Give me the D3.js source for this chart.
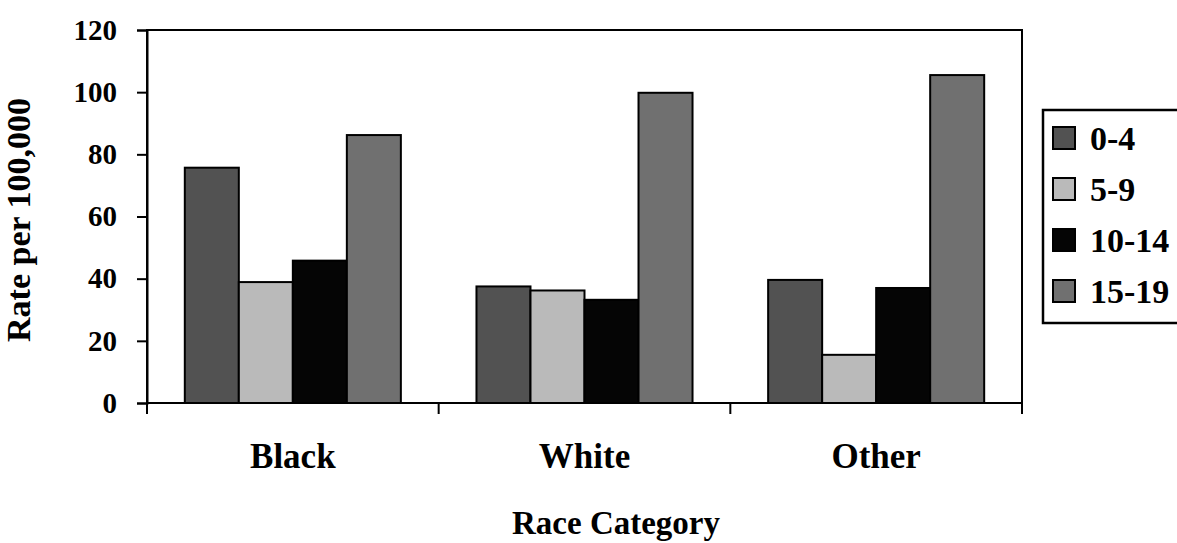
<!DOCTYPE html>
<html>
<head>
<meta charset="utf-8">
<script src="https://cdn.jsdelivr.net/npm/d3@7/dist/d3.min.js"></script>
<style>
  html, body { margin: 0; padding: 0; background: #fff; }
  text { font-family: "Liberation Serif", "Times New Roman", serif; font-weight: bold; fill: #000; }
</style>
</head>
<body>
<svg id="chart" width="1177" height="543"></svg>
<script>
const categories = ["Black", "White", "Other"];
const seriesNames = ["0-4", "5-9", "10-14", "15-19"];
const values_0_4 = [75.7, 37.5, 39.6];
const values_5_9 = [38.9, 36.2, 15.5];
const values_10_14 = [45.8, 33.2, 37.0];
const values_15_19 = [86.2, 99.8, 105.5];
const yTicks = [0, 20, 40, 60, 80, 100, 120];
const seriesColors = ["#525252", "#bababa", "#050505", "#707070"];

const seriesValues = [values_0_4, values_5_9, values_10_14, values_15_19];

(function () {
const svg = d3.select("#chart");
const mLeft = 147, mRight = 1022, mTop = 30, mBottom = 403;

const x0 = d3.scaleBand().domain(categories).range([mLeft, mRight]).paddingInner(0).paddingOuter(0);
const x1 = d3.scaleBand().domain(seriesNames).range([0, x0.bandwidth()]).paddingInner(0).paddingOuter(0.7);
const y = d3.scaleLinear().domain([0, 120]).range([mBottom, mTop]);

// plot frame
svg.append("rect")
  .attr("x", mLeft).attr("y", mTop)
  .attr("width", mRight - mLeft).attr("height", mBottom - mTop)
  .attr("fill", "none").attr("stroke", "#000").attr("stroke-width", 2);

// bars
const groups = svg.append("g").selectAll("g")
  .data(categories).join("g")
  .attr("transform", d => `translate(${x0(d)},0)`);

groups.selectAll("rect")
  .data((c, ci) => seriesNames.map((s, si) => ({ s, si, v: seriesValues[si][ci] })))
  .join("rect")
  .attr("x", d => x1(d.s))
  .attr("width", x1.bandwidth())
  .attr("y", d => y(d.v))
  .attr("height", d => y(0) - y(d.v))
  .attr("fill", d => seriesColors[d.si])
  .attr("stroke", "#000")
  .attr("stroke-width", 2);

// y axis
const yAxis = d3.axisLeft(y).tickValues(yTicks).tickSize(10).tickPadding(20).tickFormat(d3.format("d"));
const yg = svg.append("g").attr("transform", `translate(${mLeft},0)`).call(yAxis);
yg.select(".domain").attr("stroke", "#000").attr("stroke-width", 2);
yg.selectAll(".tick line").attr("stroke", "#000").attr("stroke-width", 2);
yg.selectAll(".tick text").style("font-size", "29px").style("font-family", "Liberation Serif").style("font-weight", "bold").attr("fill", "#000");

// x axis: ticks at category boundaries
const xBoundaries = [mLeft, ...categories.slice(1).map(c => x0(c)), mRight];
const xg = svg.append("g");
xg.append("line").attr("x1", mLeft).attr("x2", mRight).attr("y1", mBottom).attr("y2", mBottom)
  .attr("stroke", "#000").attr("stroke-width", 2);
xg.selectAll("line.tk").data(xBoundaries).join("line").attr("class", "tk")
  .attr("x1", d => d).attr("x2", d => d).attr("y1", mBottom).attr("y2", mBottom + 11)
  .attr("stroke", "#000").attr("stroke-width", 2);
xg.selectAll("text").data(categories).join("text")
  .attr("x", d => x0(d) + x0.bandwidth() / 2)
  .attr("y", 468)
  .attr("text-anchor", "middle")
  .style("font-size", "35px")
  .text(d => d);

// axis titles
svg.append("text")
  .attr("transform", "translate(30,220) rotate(-90)")
  .attr("text-anchor", "middle")
  .style("font-size", "34px")
  .text("Rate per 100,000");

svg.append("text")
  .attr("x", 616).attr("y", 534)
  .attr("text-anchor", "middle")
  .style("font-size", "33px")
  .text("Race Category");

// legend
const lg = svg.append("g");
lg.append("rect").attr("x", 1043).attr("y", 110).attr("width", 150).attr("height", 213)
  .attr("fill", "#fff").attr("stroke", "#000").attr("stroke-width", 2.5);
const items = lg.selectAll("g.item").data(seriesNames).join("g").attr("class", "item")
  .attr("transform", (d, i) => `translate(1053,${138 + i * 51})`);
items.append("rect").attr("x", 0).attr("y", -11).attr("width", 22).attr("height", 22)
  .attr("fill", (d, i) => seriesColors[i]).attr("stroke", "#000").attr("stroke-width", 2);
items.append("text").attr("x", 37).attr("y", 0).attr("dy", "0.35em")
  .style("font-size", "34px").text(d => d);
})();
</script>
</body>
</html>
